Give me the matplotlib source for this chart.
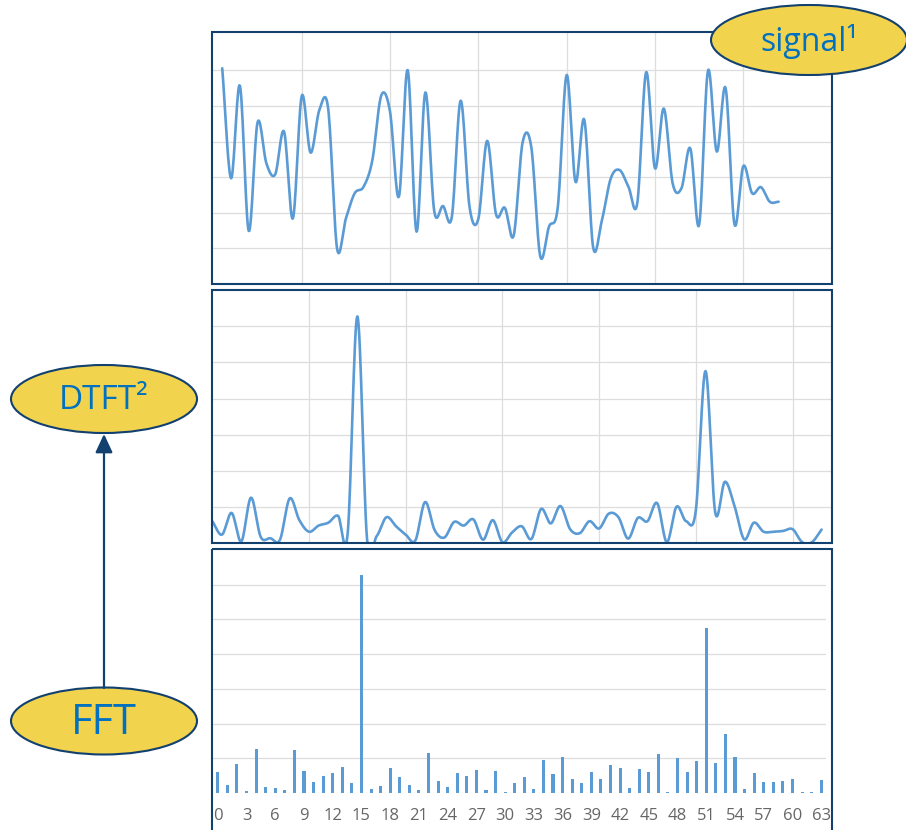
import matplotlib

matplotlib.use("Agg")
import matplotlib.pyplot as plt
import numpy as np
from matplotlib.patches import Ellipse, Rectangle

plt.rcParams["font.family"] = ["Open Sans", "DejaVu Sans"]

W, H = 906, 830
NAVY = "#12406F"
BLUE = "#5B9BD5"
GRID = "#DDDDDD"
YELLOW = "#F1D34E"
TEXT_BLUE = "#0070C0"

# time-domain samples (64 points)
signal = [
    6.06, 2.97, 5.57, 1.49, 4.54, 3.39, 3.08, 4.28, 1.84, 5.28,
    3.69, 4.89, 4.92, 1.00, 1.84, 2.55, 2.73, 3.48, 5.29, 4.84,
    2.45, 6.01, 1.47, 5.38, 2.06, 2.19, 1.89, 5.15, 2.17, 1.83,
    4.02, 1.96, 2.14, 1.36, 3.96, 3.84, 0.79, 1.61, 2.17, 5.87,
    2.87, 4.61, 1.03, 1.80, 2.97, 3.20, 2.73, 2.28, 5.95, 3.25,
    4.93, 2.83, 2.69, 3.81, 1.66, 5.99, 3.72, 5.50, 1.68, 3.31,
    2.55, 2.72, 2.31, 2.31,
]

# magnitude of each frequency bin
fft_mag = [
    0.61, 0.24, 0.84, 0.05, 1.26, 0.18, 0.14, 0.10, 1.24, 0.64,
    0.32, 0.49, 0.57, 0.76, 0.28, 6.27, 0.12, 0.20, 0.72, 0.47,
    0.24, 0.08, 1.14, 0.36, 0.16, 0.59, 0.49, 0.66, 0.10, 0.64,
    0.03, 0.30, 0.47, 0.12, 0.95, 0.55, 1.03, 0.39, 0.28, 0.61,
    0.41, 0.82, 0.72, 0.13, 0.70, 0.61, 1.11, 0.03, 1.01, 0.61,
    0.91, 4.76, 0.86, 1.70, 1.03, 0.11, 0.57, 0.32, 0.32, 0.34,
    0.39, 0.03, 0.03, 0.38,
]

bin_ticks = list(range(0, 64, 3))

labels = {"signal": "signal¹", "dtft": "DTFT²", "fft": "FFT"}


def smooth_line(xs, ys, steps=16):
    """Catmull-Rom curve through the points, like a spreadsheet 'smoothed line'."""
    x = np.asarray(xs, float)
    y = np.asarray(ys, float)
    px = np.concatenate([[2 * x[0] - x[1]], x, [2 * x[-1] - x[-2]]])
    py = np.concatenate([[2 * y[0] - y[1]], y, [2 * y[-1] - y[-2]]])
    t = np.linspace(0, 1, steps, endpoint=False)
    out_x, out_y = [], []
    for i in range(1, len(x)):
        for p, out in ((px, out_x), (py, out_y)):
            p0, p1, p2, p3 = p[i - 1], p[i], p[i + 1], p[i + 2]
            out.append(
                0.5
                * (
                    2 * p1
                    + (-p0 + p2) * t
                    + (2 * p0 - 5 * p1 + 4 * p2 - p3) * t**2
                    + (-p0 + 3 * p1 - 3 * p2 + p3) * t**3
                )
            )
    return np.concatenate(out_x + [[x[-1]]]), np.concatenate(out_y + [[y[-1]]])


def panel(fig, left, top, right, bottom, xlim, ylim):
    """Axes placed by pixel box, no spines (frames are drawn on the overlay)."""
    ax = fig.add_axes([left / W, 1 - bottom / H, (right - left) / W, (bottom - top) / H])
    for sp in ax.spines.values():
        sp.set_visible(False)
    ax.set_xlim(xlim)
    ax.set_ylim(ylim)
    ax.tick_params(length=0)
    ax.set_axisbelow(True)
    ax.set_facecolor("white")
    return ax


def main() -> None:
    fig = plt.figure(figsize=(W / 100, H / 100), dpi=100)

    # signal panel
    ax1 = panel(fig, 213.4, 32, 831.6, 284, (0, 70), (0, 252 / 35.6))
    ax1.set_xticks(range(10, 70, 10))
    ax1.set_yticks(range(1, 7))
    ax1.set_xticklabels([])
    ax1.set_yticklabels([])
    ax1.grid(color=GRID, lw=0.9)
    sx, sy = smooth_line(np.arange(1, len(signal) + 1), signal)
    ax1.plot(sx, sy, color=BLUE, lw=1.9, solid_capstyle="round")

    # continuous spectrum panel
    ax2 = panel(fig, 212.3, 290, 832, 543.3, (0, 64.08), (0, 7))
    ax2.set_xticks(range(10, 61, 10))
    ax2.set_yticks(range(1, 7))
    ax2.set_xticklabels([])
    ax2.set_yticklabels([])
    ax2.grid(color=GRID, lw=0.9)
    dx, dy = smooth_line(np.arange(len(fft_mag)), fft_mag)
    ax2.plot(dx, dy, color=BLUE, lw=1.9, solid_capstyle="round")

    # discrete bins panel
    ax3 = panel(fig, 213, 550, 826, 793, (-0.5, 63.5), (0, 7))
    ax3.set_yticks(range(1, 7))
    ax3.set_yticklabels([])
    ax3.grid(axis="y", color=GRID, lw=0.9)
    ax3.bar(range(len(fft_mag)), fft_mag, width=0.32, color=BLUE)
    ax3.set_xticks(bin_ticks)
    ax3.set_xticklabels([str(t) for t in bin_ticks], fontsize=12, color="#666666")
    ax3.tick_params(axis="x", pad=11)

    # overlay in pixel coordinates for frames, bubbles and the arrow
    ov = fig.add_axes([0, 0, 1, 1], zorder=5)
    ov.set_xlim(0, W)
    ov.set_ylim(H, 0)
    ov.axis("off")
    ov.patch.set_alpha(0)

    for top, bottom in ((32, 284), (290, 543), (549, 845)):
        ov.add_patch(Rectangle((212, top), 620, bottom - top, fill=False, ec=NAVY, lw=1.5))

    bubbles = [
        (809, 40, 196, 70, labels["signal"], 23, 51),
        (104, 399, 186, 68, labels["dtft"], 24, 408.5),
        (104, 721, 186, 67, labels["fft"], 30, 734),
    ]
    for cx, cy, w, h, text, size, base in bubbles:
        ov.add_patch(Ellipse((cx, cy), w, h, fc=YELLOW, ec=NAVY, lw=1.5, zorder=3))
        ov.text(cx, base, text, ha="center", va="baseline", fontsize=size,
                color=TEXT_BLUE, zorder=4)

    ov.annotate(
        "",
        xy=(104, 434),
        xytext=(104, 688),
        arrowprops=dict(arrowstyle="-|>,head_length=0.75,head_width=0.35",
                        color=NAVY, lw=1.6, mutation_scale=15,
                        shrinkA=0, shrinkB=0),
    )

    fig.savefig("out.png", dpi=100)
    plt.close(fig)


if __name__ == "__main__":
    main()
